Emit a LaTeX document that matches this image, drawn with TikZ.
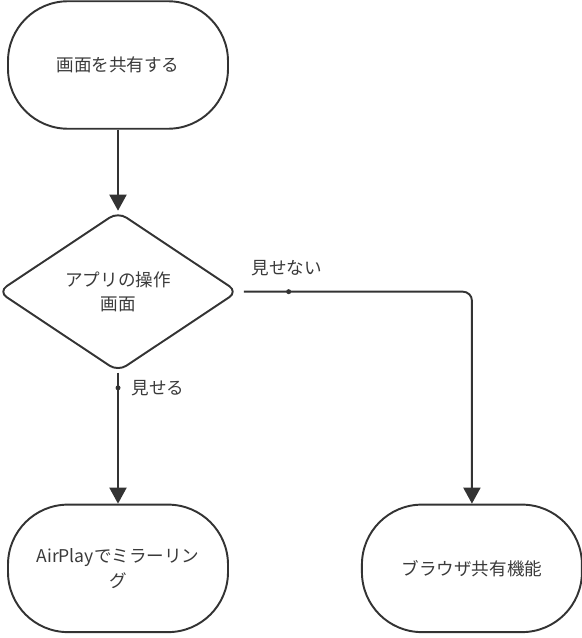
\documentclass[tikz,border=0pt]{standalone}
\usepackage{fontspec}
\setmainfont{Noto Sans CJK JP}
\usepackage{tikz}
\usetikzlibrary{positioning}
\usetikzlibrary{arrows.meta}
\usetikzlibrary{shapes}

\definecolor{lineGray}{HTML}{333333}
\definecolor{textGray}{HTML}{3A3A3A}

\tikzset{
    terminal/.style={rectangle,draw=lineGray,line width=1.1pt,rounded corners=1.2cm,minimum width=4.4cm,minimum height=2.55cm,text=textGray,font=\fontsize{10}{14}\selectfont,align=center},
    decision/.style={diamond,draw=lineGray,line width=1.1pt,rounded corners=0.2cm,minimum width=4.8cm,minimum height=3.2cm,inner sep=0pt,text=textGray,font=\fontsize{10}{14}\selectfont,align=center},
    flow/.style={draw=lineGray,line width=1.1pt,-{Triangle[length=0.32cm,width=0.34cm]}},
    edgedot/.style={circle,fill=lineGray,inner sep=0pt,minimum size=0.1cm},
    edgelabel/.style={text=textGray,font=\fontsize{10}{14}\selectfont}
}

\begin{document}
\begin{tikzpicture}
        \useasboundingbox (-2.36,1.30) rectangle (9.28,-11.46);

        \node (termShare) at (0,0) [terminal] {画面を共有する};
        \node[below=1.62cm of termShare] (decView) [decision] {アプリの操作\\画面};
        \node[below=2.62cm of decView,minimum height=2.66cm] (termAirPlay) [terminal] {AirPlayでミラーリン\\グ};
        \node[right=2.64cm of termAirPlay,minimum height=2.66cm] (termBrowser) [terminal] {ブラウザ共有機能};

        \coordinate (noStart) at ([xshift=0.1cm]decView.east);

        \draw[flow] (termShare) -- (decView);
        \draw[flow] (decView) -- node[pos=0.116,edgedot] (dotShow) {} (termAirPlay);
        \draw[flow,rounded corners=0.18cm] (noStart) -| node[pos=0.098,edgedot] (dotHide) {} (termBrowser);

        \node[right=0.08cm of dotShow,edgelabel] (lblShow) {見せる};
        \node[above=0.12cm of dotHide,xshift=-0.04cm,edgelabel] (lblHide) {見せない};

    \end{tikzpicture}
\end{document}
